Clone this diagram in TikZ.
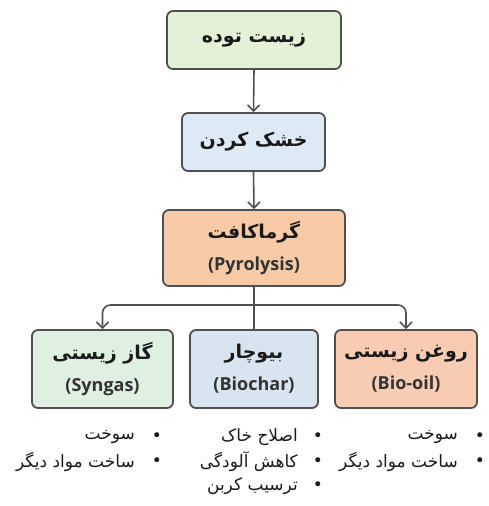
\documentclass[tikz,border=0pt]{standalone}
\usepackage{fontspec}
\usetikzlibrary{arrows.meta}
\TeXXeTstate=1
\newfontfamily\fa[Script=Arabic]{DejaVu Sans}
\newfontfamily\en{Open Sans}
\definecolor{bordc}{HTML}{505050}
\definecolor{greenA}{HTML}{E4F0D8}
\definecolor{blueA}{HTML}{DDEAF6}
\definecolor{peachA}{HTML}{F8CBA6}
\definecolor{greenB}{HTML}{DFF0E3}
\definecolor{blueB}{HTML}{D8E5F1}
\definecolor{peachB}{HTML}{F8CCB2}
\definecolor{txtc}{HTML}{1A1A1A}
\definecolor{entxt}{HTML}{333333}
\tikzset{
  box/.style={draw=bordc, line width=1.8pt, rounded corners=6pt, align=center,
    inner sep=0pt, text=txtc, font=\fontsize{19}{32}\selectfont},
  conn/.style={draw=bordc, line width=1.6pt},
  arr/.style={conn, -{Straight Barb[length=6pt,width=12pt,line width=1.6pt]}},
  item/.style={anchor=east, inner sep=0pt, text=txtc, font=\fontsize{17}{20}\selectfont\fa},
  dot/.style={inner sep=0pt, text=txtc, font=\fontsize{17}{20}\selectfont\fa},
}
\newcommand{\fat}[1]{{\fa\bfseries\beginR #1\endR}}
\newcommand{\ent}[1]{{\fontsize{18}{32}\selectfont\en\bfseries\color{entxt}#1}}
\newcommand{\rtl}[1]{\beginR #1\endR}
\begin{document}
\begin{tikzpicture}[x=1pt,y=-1pt]
\useasboundingbox (0,0) rectangle (488,506);
\fill[white] (0,0) rectangle (488,506);

\node[box, fill=greenA, minimum width=174pt, minimum height=58pt] (bio) at (254,40) {\fat{زیست توده}};
\node[box, fill=blueA, minimum width=143pt, minimum height=58pt] (dry) at (253.5,142) {\fat{خشک کردن}};
\node[box, fill=peachA, minimum width=182pt, minimum height=76pt] (pyr) at (254,248) {\fat{گرماکافت}\\\ent{(Pyrolysis)}};

\node[box, fill=greenB, minimum width=141pt, minimum height=78pt] (syn) at (102.5,369) {\fat{گاز زیستی}\\\ent{(Syngas)}};
\node[box, fill=blueB, minimum width=128pt, minimum height=78pt] (bch) at (254,369) {\fat{بیوچار}\\\ent{(Biochar)}};
\node[box, fill=peachB, minimum width=142pt, minimum height=78pt] (oil) at (406,369) {\fat{روغن زیستی}\\\ent{(Bio-oil)}};

\draw[arr] (bio.south) -- (dry.north);
\draw[arr] (dry.south) -- (pyr.north);
\coordinate (j) at (254,305);
\draw[conn] (pyr.south) -- (bch.north);
\draw[arr, rounded corners=8pt] (j) -| (syn.north);
\draw[arr, rounded corners=8pt] (j) -| (oil.north);

% bullet lists
\node[dot] (d1) at (480,437) {•};
\node[item] (t1) at (458,437) {\rtl{سوخت}};
\node[dot] (d2) at (480,462) {•};
\node[item] (t2) at (458,462) {\rtl{ساخت مواد دیگر}};

\node[dot] (d3) at (318,437) {•};
\node[item] (t3) at (298,437) {\rtl{اصلاح خاک}};
\node[dot] (d4) at (318,462) {•};
\node[item] (t4) at (298,462) {\rtl{کاهش آلودگی}};
\node[dot] (d5) at (318,486) {•};
\node[item] (t5) at (298,486) {\rtl{ترسیب کربن}};

\node[dot] (d6) at (157,437) {•};
\node[item] (t6) at (135,437) {\rtl{سوخت}};
\node[dot] (d7) at (157,462) {•};
\node[item] (t7) at (135,462) {\rtl{ساخت مواد دیگر}};
\end{tikzpicture}
\end{document}
